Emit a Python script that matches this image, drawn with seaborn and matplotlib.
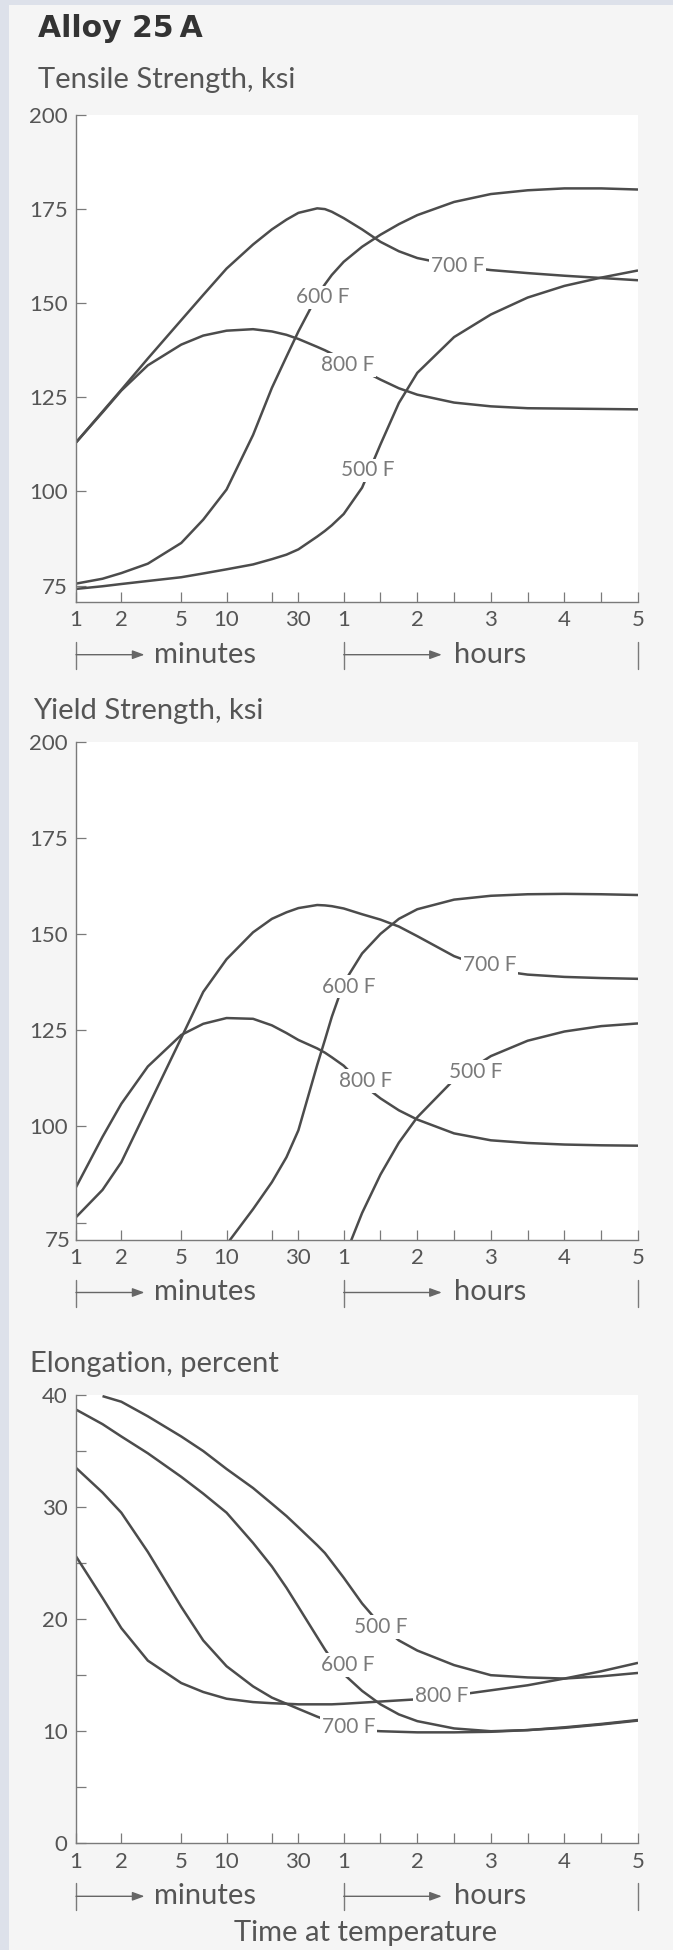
import numpy as np
import pandas as pd
import matplotlib
matplotlib.use("Agg")
import matplotlib.pyplot as plt
import matplotlib.transforms as mtransforms
from matplotlib.ticker import FixedLocator, FixedFormatter, NullLocator
from matplotlib.patches import Rectangle
import seaborn as sns

# ---------------- data (time in minutes; 60..300 min = 1..5 hours) ----------------
TIME_MIN = [1, 1.5, 2, 3, 5, 7, 10, 15, 20, 25, 30, 40, 45, 50, 60,
            75, 90, 105, 120, 150, 180, 210, 240, 270, 300]
TEMPS = ["500 F", "600 F", "700 F", "800 F"]
nan = np.nan

TENSILE_500 = [74.1, 74.8, 75.4, 76.2, 77.2, 78.2, 79.3, 80.6, 82.0, 83.2, 84.6, 88.0, 89.5, 91.0, 94.0,
               101.0, 112.5, 123.5, 131.5, 141.0, 147.0, 151.5, 154.6, 156.8, 158.7]
TENSILE_600 = [75.5, 76.8, 78.3, 80.8, 86.3, 92.5, 100.5, 115.0, 127.5, 135.8, 142.5, 152.0, 155.0, 157.5, 161.0,
               165.0, 168.2, 171.0, 173.4, 176.9, 179.0, 180.0, 180.5, 180.5, 180.2]
TENSILE_700 = [113.0, 121.2, 127.0, 135.3, 145.5, 152.2, 159.2, 165.6, 169.6, 172.2, 174.0, 175.2, 175.0, 174.3, 172.6,
               169.6, 166.3, 163.8, 162.0, 160.0, 158.8, 158.0, 157.3, 156.7, 156.1]
TENSILE_800 = [113.0, 121.0, 126.8, 133.5, 139.0, 141.4, 142.7, 143.1, 142.5, 141.6, 140.5, 138.4, 137.5, 136.6, 134.8,
               132.2, 129.7, 127.4, 125.7, 123.6, 122.6, 122.1, 122.0, 121.9, 121.8]

YIELD_500 = [nan, nan, nan, nan, nan, nan, nan, nan, nan, nan, nan, nan, nan, nan, 65.5,
             77.5, 87.5, 95.8, 102.4, 112.2, 118.3, 122.3, 124.7, 126.1, 126.8]
YIELD_600 = [nan, nan, nan, nan, nan, nan, 69.3, 78.5, 85.5, 92.0, 99.0, 116.0, 122.5, 128.5, 137.3,
             145.0, 150.1, 154.0, 156.5, 159.0, 160.0, 160.4, 160.5, 160.4, 160.2]
YIELD_700 = [76.4, 83.5, 90.7, 105.0, 123.0, 135.0, 143.5, 150.5, 154.0, 155.7, 156.8, 157.6, 157.5, 157.3, 156.7,
             155.2, 153.8, 152.0, 149.5, 144.3, 140.8, 139.5, 138.9, 138.6, 138.4]
YIELD_800 = [84.2, 97.3, 105.9, 115.6, 123.8, 126.7, 128.2, 128.0, 126.3, 124.3, 122.5, 120.3, 119.2, 118.0, 115.8,
             111.0, 107.3, 104.2, 101.8, 98.2, 96.4, 95.7, 95.3, 95.1, 95.0]

ELONG_500 = [nan, 39.9, 39.4, 38.1, 36.3, 35.0, 33.4, 31.7, 30.3, 29.2, 28.2, 26.6, 25.9, 25.1, 23.7,
             21.4, 19.5, 18.1, 17.2, 15.9, 15.0, 14.8, 14.7, 14.9, 15.2]
ELONG_600 = [38.7, 37.4, 36.3, 34.8, 32.7, 31.2, 29.5, 26.8, 24.7, 22.8, 21.1, 18.4, 17.3, 16.4, 15.1,
             13.6, 12.4, 11.5, 10.9, 10.25, 10.0, 10.1, 10.35, 10.65, 11.0]
ELONG_700 = [33.5, 31.3, 29.5, 26.0, 21.1, 18.1, 15.8, 14.0, 13.0, 12.45, 12.0, 11.3, 11.05, 10.8, 10.4,
             10.1, 10.0, 9.95, 9.9, 9.9, 9.95, 10.1, 10.3, 10.6, 10.95]
ELONG_800 = [25.6, 21.9, 19.2, 16.3, 14.3, 13.5, 12.9, 12.6, 12.5, 12.45, 12.4, 12.4, 12.4, 12.4, 12.45,
             12.55, 12.65, 12.75, 12.85, 13.2, 13.65, 14.1, 14.7, 15.35, 16.1]

# curve label anchor points (minutes, value)
TENSILE_LABEL_T = [80, 43.6, 153, 63.5]
TENSILE_LABEL_V = [105.6, 151.6, 159.9, 133.6]
YIELD_LABEL_T = [168, 64, 179, 77.6]
YIELD_LABEL_V = [114.2, 136.4, 141.9, 111.8]
ELONG_LABEL_T = [90, 63, 64, 140]
ELONG_LABEL_V = [19.3, 15.9, 10.4, 13.1]

X_TICKS = [1, 2, 5, 10, 20, 30, 60, 90, 120, 150, 180, 210, 240, 270, 300]
X_LABELS = ["1", "2", "5", "10", "", "30", "1", "", "2", "", "3", "", "4", "", "5"]
STRENGTH_TICKS = [75, 100, 125, 150, 175, 200]
ELONG_TICKS = [0, 5, 10, 15, 20, 25, 30, 35, 40]
ELONG_LABELS = ["0", "", "10", "", "20", "", "30", "", "40"]

# ---------------- style ----------------
sns.set_theme(style="white")
NARROW = ["Liberation Sans Narrow", "Lato", "DejaVu Sans"]
TEXTF = ["Lato", "DejaVu Sans"]
plt.rcParams["font.family"] = TEXTF

LINE = "#4c4c4c"
AXC = "#7a7a7a"
TXT = "#555555"
LBL = "#7a7a7a"
BG = "#f5f5f5"
TICK_FS = 16

W, H, DPI = 673, 1950, 100
fig = plt.figure(figsize=(W / DPI, H / DPI), dpi=DPI, facecolor=BG)
fig.patches.append(Rectangle((0, 0), 9 / W, 1, transform=fig.transFigure, fc="#dde1ea", ec="none", zorder=0))
fig.patches.append(Rectangle((0, 1 - 5 / H), 1, 5 / H, transform=fig.transFigure, fc="#dde1ea", ec="none", zorder=0))

# x scale: log minutes 1..60, then linear hours 1..5
U60 = np.log10(60.0)
HOUR_W = 73.4 / 150.2  # decades per hour


def fwd(m):
    m = np.clip(np.asarray(m, dtype=float), 1e-9, None)
    return np.where(m <= 60, np.log10(m), U60 + (m - 60) / 60.0 * HOUR_W)


def inv(u):
    u = np.asarray(u, dtype=float)
    return np.where(u <= U60, 10 ** np.minimum(u, U60), 60 + (u - U60) / HOUR_W * 60.0)


def frame(series):
    rows = []
    for temp, vals in zip(TEMPS, series):
        for t, v in zip(TIME_MIN, vals):
            rows.append((temp, t, v))
    return pd.DataFrame(rows, columns=["temp", "minutes", "value"]).dropna()


LEFT = 76 / W
WIDTH = (638 - 76) / W


def panel(bottom_px, top_px, series, ylim, yticks, ylabels, lab_t, lab_v, title, title_x, title_base):
    ax = fig.add_axes([LEFT, 1 - bottom_px / H, WIDTH, (bottom_px - top_px) / H])
    ax.set_facecolor("white")
    df = frame(series)
    sns.lineplot(data=df, x="minutes", y="value", hue="temp",
                 palette={t: LINE for t in TEMPS}, legend=False, ax=ax,
                 errorbar=None, linewidth=1.8, sort=True)
    for ln in ax.lines:
        ln.set_solid_capstyle("butt")
        ln.set_solid_joinstyle("round")
    ax.set_xscale("function", functions=(fwd, inv))
    ax.set_xlim(1, 300)
    ax.set_ylim(*ylim)
    ax.set_xlabel("")
    ax.set_ylabel("")
    for s in ("top", "right"):
        ax.spines[s].set_visible(False)
    for s in ("left", "bottom"):
        ax.spines[s].set_color(AXC)
        ax.spines[s].set_linewidth(1.0)
    ax.xaxis.set_major_locator(FixedLocator(X_TICKS))
    ax.xaxis.set_major_formatter(FixedFormatter(X_LABELS))
    ax.xaxis.set_minor_locator(NullLocator())
    ax.yaxis.set_major_locator(FixedLocator(yticks))
    ax.yaxis.set_major_formatter(FixedFormatter(ylabels))
    ax.yaxis.set_minor_locator(NullLocator())
    ax.tick_params(axis="both", which="major", direction="in", length=7, width=0.9, color=AXC,
                   labelcolor=TXT, labelsize=TICK_FS, bottom=True, left=True, top=False, right=False)
    ax.tick_params(axis="x", pad=6)
    ax.tick_params(axis="y", pad=6)
    for lab in ax.get_xticklabels() + ax.get_yticklabels():
        lab.set_family(NARROW)
    ax.grid(False)
    # curve labels
    for name, t, v in zip(TEMPS, lab_t, lab_v):
        ax.text(t, v, name, ha="center", va="center", fontsize=15, color=LBL, family=NARROW,
                zorder=5, bbox=dict(boxstyle="square,pad=0.08", fc="white", ec="none"))
    # minutes / hours markers below axis
    hpx = (bottom_px - top_px)
    blend = mtransforms.blended_transform_factory(ax.transData, ax.transAxes)

    def fy(px):
        return -px / hpx

    for xb in (1, 60, 300):
        ax.plot([xb, xb], [fy(40), fy(67)], transform=blend, clip_on=False, color=AXC, lw=1.0)
    for x0, x1 in ((1, 2.85), (60, 140)):
        ax.annotate("", xy=(x1, fy(53)), xytext=(x0, fy(53)), xycoords=blend, textcoords=blend,
                    arrowprops=dict(arrowstyle="-|>,head_length=0.6,head_width=0.22", color="#666666",
                                    lw=1.0, shrinkA=0, shrinkB=0), annotation_clip=False)
    ax.text(3.3, fy(53), "minutes", transform=blend, ha="left", va="center", fontsize=21,
            color=TXT, family=TEXTF)
    ax.text(150, fy(53), "hours", transform=blend, ha="left", va="center", fontsize=21,
            color=TXT, family=TEXTF)
    fig.text(title_x / W, 1 - title_base / H, title, ha="left", va="baseline", fontsize=21,
             color=TXT, family=TEXTF)
    return ax


S_LABELS = [str(v) for v in STRENGTH_TICKS]
ax1 = panel(601.7, 115, [TENSILE_500, TENSILE_600, TENSILE_700, TENSILE_800], (70.7, 200),
            STRENGTH_TICKS, S_LABELS, TENSILE_LABEL_T, TENSILE_LABEL_V,
            "Tensile Strength, ksi", 38, 88)
Y_LABELS = [""] + S_LABELS[1:]
ax2 = panel(1239.5, 742, [YIELD_500, YIELD_600, YIELD_700, YIELD_800], (70.6, 200),
            STRENGTH_TICKS, Y_LABELS, YIELD_LABEL_T, YIELD_LABEL_V,
            "Yield Strength, ksi", 33, 719)
ax2.annotate("75", xy=(0, 75), xycoords=("axes fraction", "data"), xytext=(-4, -13),
             textcoords="offset points", ha="right", va="center", fontsize=TICK_FS, color=TXT,
             family=NARROW, annotation_clip=False)
ax3 = panel(1843.3, 1395, [ELONG_500, ELONG_600, ELONG_700, ELONG_800], (0, 40),
            ELONG_TICKS, ELONG_LABELS, ELONG_LABEL_T, ELONG_LABEL_V,
            "Elongation, percent", 30, 1371.7)

fig.text(38 / W, 1 - 37 / H, "Alloy 25\u2009A", ha="left", va="baseline", fontsize=21.5,
         fontweight="bold", color="#333333", family=["DejaVu Sans"])
fig.text(365.5 / W, 1 - 1933.3 / H, "Time at temperature", ha="center", va="center",
         fontsize=21, color=TXT, family=TEXTF)

fig.savefig("out.png", dpi=DPI, facecolor=BG)
